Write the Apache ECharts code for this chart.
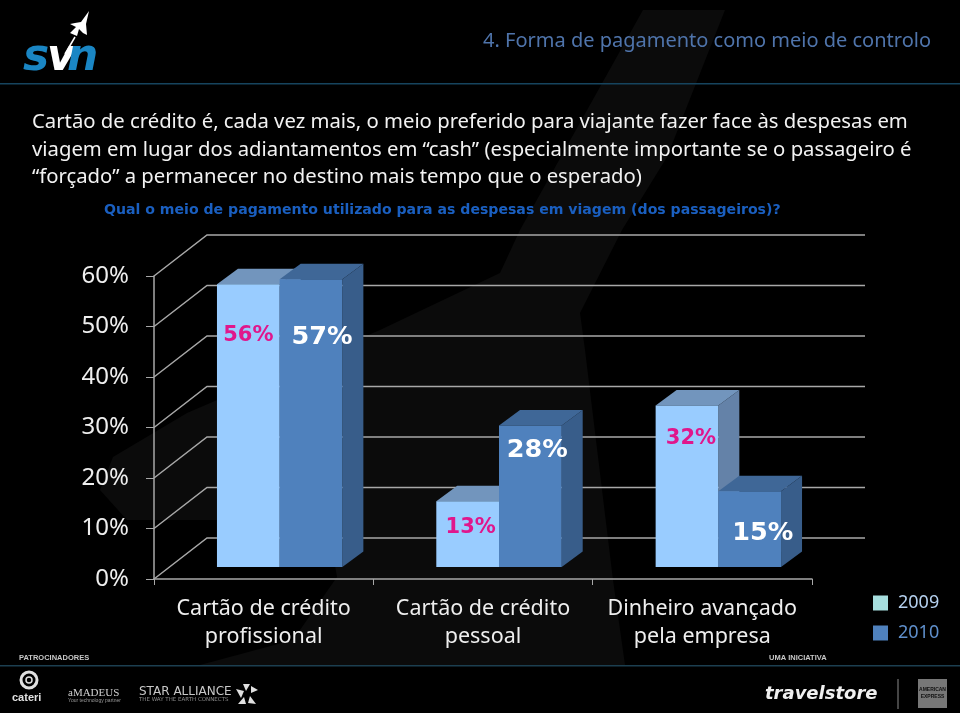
<!DOCTYPE html>
<html><head><meta charset="utf-8">
<style>html,body{margin:0;padding:0;background:#000}#c{width:960px;height:713px}</style>
<script src="https://cdn.jsdelivr.net/npm/echarts@6/dist/echarts.min.js"></script>
</head><body><div id="c"></div>
<script>
const categories = ['Cartão de crédito\nprofissional', 'Cartão de crédito\npessoal', 'Dinheiro avançado\npela empresa'];
const seriesNames = ['2009', '2010'];
const values2009 = [56, 13, 32];
const values2010 = [57, 28, 15];
const yTicks = [0, 10, 20, 30, 40, 50, 60];

const headline = '4. Forma de pagamento como meio de controlo';
const paragraph = 'Cartão de crédito é, cada vez mais, o meio preferido para viajante fazer face às despesas em\nviagem em lugar dos adiantamentos em “cash” (especialmente importante se o passageiro é\n“forçado” a permanecer no destino mais tempo que o esperado)';
const question = 'Qual o meio de pagamento utilizado para as despesas em viagem (dos passageiros)?';

// layout of the pseudo-3D drawing, in pixels
const wallDX = 53, wallDY = -41, barDX = 21, barDY = -15.5, barW = 62.7, groupDX = 16, floorDY = -12;
const labelShift2009 = [[0, 51], [3, 26], [4, 33]];
const labelShift2010 = [[11, 58], [7, 25], [13, 42]];

const body = '"Noto Sans", sans-serif';

function barSeries(name, values, side, front, top, right, labelColor, labelSize, shift) {
  return {
    name, type: 'custom', coordinateSystem: 'cartesian2d', clip: false, z: 3,
    itemStyle: { color: front },
    data: values.map((v, i) => [i, v]),
    renderItem(params, api) {
      const i = api.value(0), v = api.value(1);
      const b = api.coord([i, 0]), t = api.coord([i, v]);
      const c = b[0] + groupDX;
      const x0 = side === 0 ? c - barW : c, x1 = x0 + barW;
      const yb = b[1] + floorDY, yt = t[1] + floorDY;
      const s = shift[params.dataIndex];
      return { type: 'group', children: [
        { type: 'polygon', shape: { points: [[x1, yt], [x1 + barDX, yt + barDY], [x1 + barDX, yb + barDY], [x1, yb]] }, style: { fill: right } },
        { type: 'polygon', shape: { points: [[x0, yt], [x0 + barDX, yt + barDY], [x1 + barDX, yt + barDY], [x1, yt]] }, style: { fill: top } },
        { type: 'rect', shape: { x: x0, y: yt, width: barW, height: yb - yt }, style: { fill: front } },
        { type: 'text', z2: 10, style: { x: (x0 + x1) / 2 + s[0], y: yt + s[1], text: v + '%', fill: labelColor,
            font: 'bold ' + labelSize + 'px "DejaVu Sans"', align: 'center', verticalAlign: 'middle' } }
      ]};
    }
  };
}

const wm = [[725,10],[667,157],[622,230],[580,313],[585,350],[613,580],[625,665],[200,665],[293,640],[337,577],[327,520],[127,520],[100,490],[113,457],[187,413],[380,330],[500,273],[520,230],[643,10]];
const plane = [[89,11],[86,24],[87,35],[83,33],[79,29],[77,36],[70,33],[76,27],[70,24],[75,23],[81,22]];
const starTriangles = [
  [[243,684],[250,684],[246,691]],
  [[251,686],[258,690],[251,693]],
  [[250,696],[256,704],[248,703]],
  [[244,697],[246,704],[238,704]],
  [[236,689],[244,691],[241,698]]
];

const chart = echarts.init(document.getElementById('c'), null, { renderer: 'canvas' });
chart.setOption({
  animation: false,
  backgroundColor: '#000',
  title: [
    { text: headline, right: 24, top: 26, textStyle: { color: '#4f74ab', fontSize: 20, fontWeight: 'normal', fontFamily: body } },
    { text: paragraph, left: 27, top: 104, textStyle: { color: '#f2f2f2', fontSize: 20.3, lineHeight: 27.2, fontWeight: 'normal', fontFamily: body } },
    { text: question, left: 99, top: 198, textStyle: { color: '#1a5fc0', fontSize: 14.1, fontWeight: 'bold', fontFamily: '"DejaVu Sans"' } }
  ],
  legend: {
    orient: 'vertical', left: 868, top: 589, itemWidth: 15, itemHeight: 15, itemGap: 12, icon: 'rect',
    selectedMode: false,
    data: [
      { name: '2009', itemStyle: { color: '#a6dede' }, textStyle: { color: '#b5d0ee' } },
      { name: '2010', itemStyle: { color: '#4f81bd' }, textStyle: { color: '#5f8fcb' } }
    ],
    textStyle: { fontSize: 18, fontFamily: body, padding: [0, 0, 0, 5] }
  },
  grid: { left: 154, width: 658, top: 276, height: 303 },
  xAxis: {
    type: 'category', data: categories,
    axisLine: { lineStyle: { color: '#a8a8a8', width: 1.5 } },
    axisTick: { show: true, interval: 0, length: 6, lineStyle: { color: '#a8a8a8' } },
    axisLabel: { interval: 0, color: '#eeeeee', fontSize: 21.5, lineHeight: 28, margin: 16, fontFamily: body }
  },
  yAxis: {
    type: 'value', min: 0, max: 60, interval: 10,
    axisLine: { show: true, lineStyle: { color: '#a8a8a8', width: 1.5 } },
    axisTick: { show: true, length: 8, lineStyle: { color: '#a8a8a8' } },
    splitLine: { show: false },
    axisLabel: { color: '#eeeeee', fontSize: 24, margin: 25, padding: [3, 0, 0, 0], fontFamily: body, formatter: v => v + '%' }
  },
  series: [
    {
      name: 'grade', type: 'custom', coordinateSystem: 'cartesian2d', clip: false, z: 1, silent: true,
      data: yTicks.map(t => [0, t]),
      renderItem(params, api) {
        const y = api.coord([0, api.value(1)])[1];
        const x = params.coordSys.x, w = params.coordSys.width;
        return { type: 'polyline', shape: { points: [[x, y], [x + wallDX, y + wallDY], [x + w + wallDX, y + wallDY]] },
          style: { stroke: '#a8a8a8', lineWidth: 1.5, fill: 'none' } };
      }
    },
    barSeries(seriesNames[0], values2009, 0, '#99ccff', '#7295bd', '#6482a8', '#e0168c', 21, labelShift2009),
    barSeries(seriesNames[1], values2010, 1, '#4f81bd', '#3f6797', '#385d8a', '#ffffff', 25.5, labelShift2010)
  ],
  graphic: [
    { type: 'polygon', z: -5, shape: { points: wm }, style: { fill: '#0b0b0b' } },
    { type: 'rect', z: -4, shape: { x: 0, y: 83, width: 960, height: 1.5 }, style: { fill: '#16445e' } },
    { type: 'rect', z: -4, shape: { x: 0, y: 665, width: 960, height: 1.5 }, style: { fill: '#1c3f50' } },
    // svn logo
    { type: 'text', style: { x: 23, y: 81, text: 's', fill: '#1a86c4', font: 'italic bold 44px "DejaVu Sans"', verticalAlign: 'bottom' }},
    { type: 'text', style: { x: 47, y: 81, text: 'v', fill: '#ffffff', font: 'italic bold 44px "DejaVu Sans"', verticalAlign: 'bottom' }},
    { type: 'text', style: { x: 67, y: 81, text: 'n', fill: '#1a86c4', font: 'italic bold 44px "DejaVu Sans"', verticalAlign: 'bottom' }},
    { type: 'polygon', shape: { points: plane }, style: { fill: '#ffffff' } },
    { type: 'polyline', shape: { points: [[75, 37], [65, 54]] }, style: { stroke: '#ffffff', lineWidth: 1.5, fill: 'none' } },
    // footer
    { type: 'text', style: { x: 19, y: 658, text: 'PATROCINADORES', fill: '#c8c8c8', font: 'bold 7.5px "Liberation Sans"', verticalAlign: 'middle' } },
    { type: 'text', style: { x: 769, y: 658, text: 'UMA INICIATIVA', fill: '#c8c8c8', font: 'bold 7.5px "Liberation Sans"', verticalAlign: 'middle' } },
    { type: 'circle', shape: { cx: 29, cy: 680, r: 8 }, style: { stroke: '#e0e0e0', lineWidth: 3, fill: 'none' } },
    { type: 'circle', shape: { cx: 29, cy: 680, r: 3 }, style: { stroke: '#e0e0e0', lineWidth: 1.5, fill: 'none' } },
    { type: 'text', style: { x: 12, y: 698, text: 'cateri', fill: '#e0e0e0', font: 'bold 11px "Liberation Sans"', verticalAlign: 'middle' } },
    { type: 'text', style: { x: 68, y: 693, text: 'aMADEUS', fill: '#d0d0d0', font: '11px "Liberation Serif"', verticalAlign: 'middle' } },
    { type: 'text', style: { x: 68, y: 701, text: 'Your technology partner', fill: '#999999', font: '5px "Liberation Sans"', verticalAlign: 'middle' } },
    { type: 'text', style: { x: 139, y: 692, text: 'STAR ALLIANCE', fill: '#c8c8c8', font: '12px "DejaVu Sans"', verticalAlign: 'middle' } },
    { type: 'text', style: { x: 139, y: 700, text: 'THE WAY THE EARTH CONNECTS', fill: '#8c8c8c', font: '5.5px "DejaVu Sans"', verticalAlign: 'middle' } },
  ].concat(starTriangles.map(p => ({ type: 'polygon', shape: { points: p }, style: { fill: '#e0e0e0' } }))).concat([
    { type: 'text', style: { x: 765, y: 694, text: 'travelstore', fill: '#f0f0f0', font: 'italic bold 18px "DejaVu Sans"', verticalAlign: 'middle' } },
    { type: 'rect', shape: { x: 897.5, y: 679, width: 1, height: 30 }, style: { fill: '#8a8a8a' } },
    { type: 'rect', shape: { x: 918, y: 679, width: 29, height: 29 }, style: { fill: '#777777' } },
    { type: 'text', style: { x: 932.5, y: 690, text: 'AMERICAN', fill: '#111111', font: 'bold 5px "Liberation Sans"', align: 'center', verticalAlign: 'middle' } },
    { type: 'text', style: { x: 932.5, y: 697, text: 'EXPRESS', fill: '#111111', font: 'bold 5px "Liberation Sans"', align: 'center', verticalAlign: 'middle' } }
  ])
});
</script></body></html>
